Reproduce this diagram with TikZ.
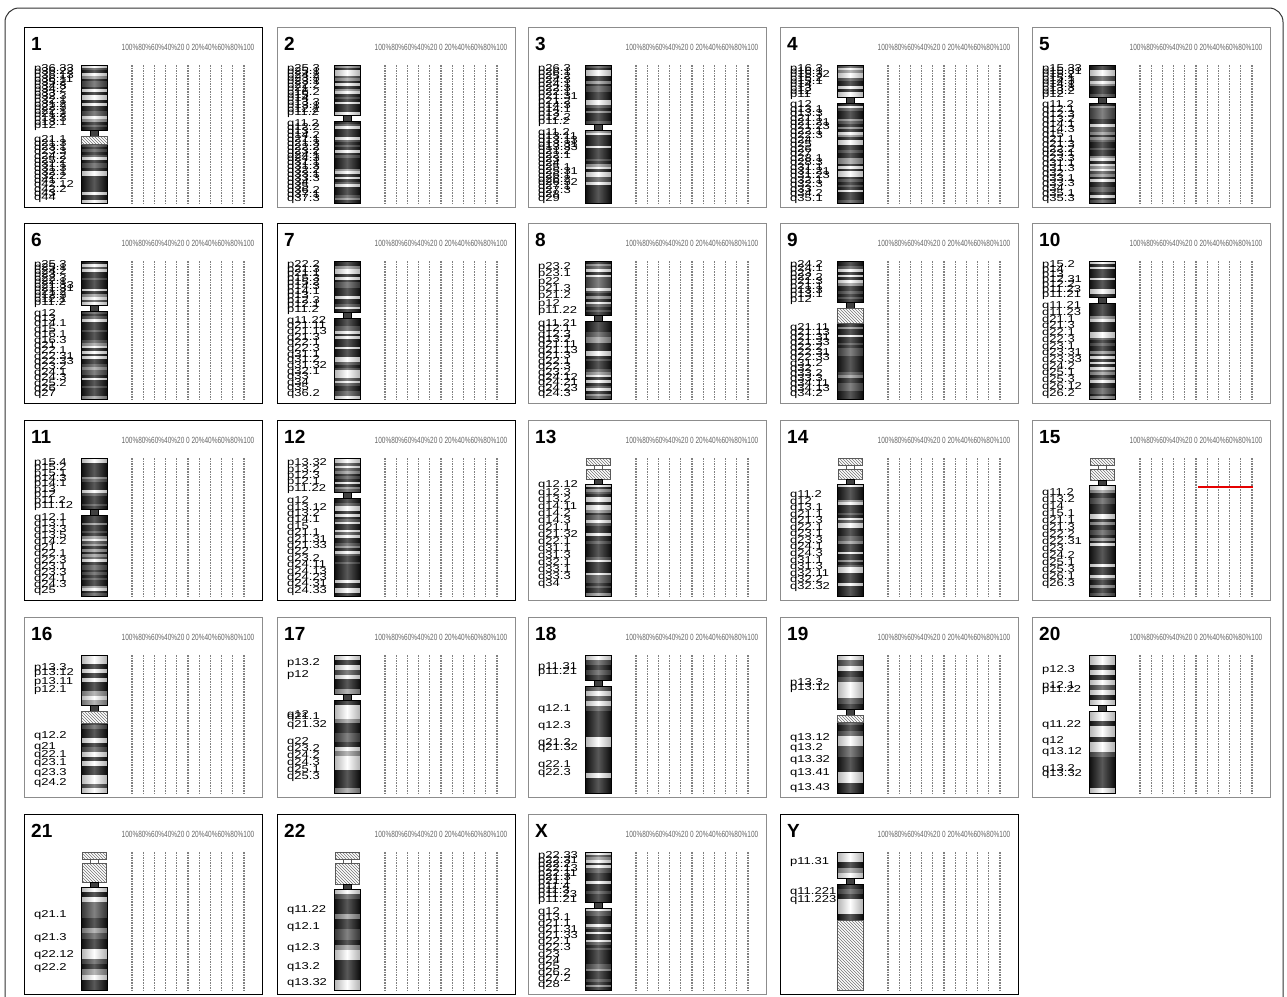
\documentclass[tikz,border=0pt]{standalone}
\usepackage{fontspec}
\usepackage{graphicx}
\setmainfont{Liberation Sans}
\usetikzlibrary{patterns, positioning, calc}

\tikzset{
  frame/.style={draw=black!80, line width=1pt, rounded corners=14pt},
  panel/.style={draw=black!45, line width=0.9pt, minimum width=238pt, minimum height=180pt, anchor=north west, inner sep=0pt},
  darkpanel/.style={panel, draw=black, line width=1.4pt},
  chrtitle/.style={anchor=north west, inner sep=0pt, font=\fontsize{19}{19}\selectfont\bfseries},
  scalelabel/.style={inner sep=0pt, text=black!60, font=\fontsize{9}{9}\selectfont},
  bandlabel/.style={anchor=west, inner sep=0pt, font=\fontsize{10}{10}\selectfont},
  gridline/.style={draw=black!50, line width=1.1pt, dash pattern=on 1.5pt off 1.1pt},
  arm/.style={draw=black, line width=1pt},
  stalk/.style={pattern=north west lines, pattern color=black!55, draw=black!65, line width=0.8pt},
  notch/.style={fill=black!75, draw=black, line width=0.6pt},
  hitline/.style={draw=red!90!black, line width=2.6pt},
}

% one panel: id, x, y, border style, contents
\newcommand{\chrpanel}[5]{%
  \begin{scope}[shift={(#2,#3)}]
    \node[#4] (box#1) at (0,0) {};
    \node[chrtitle] (title#1) at (7,10) {#1};
    \node[scalelabel] (scale#1) at (164,20) {\scalebox{0.72}[1]{100\%80\%60\%40\%20 0 20\%40\%60\%80\%100}};
    \foreach \c in {0,...,10}
      \draw[gridline] ({108+11.2*\c},38) -- ({108+11.2*\c},176);
    #5
  \end{scope}}

% banded arm: top, bottom, slice height, white threshold
\newcommand{\armbands}[4]{%
  \pgfmathsetmacro\armtop{#1}
  \pgfmathsetmacro\armbot{#2}
  \pgfmathtruncatemacro\armn{(\armbot-\armtop)/#3}
  \pgfmathsetmacro\armslice{(\armbot-\armtop)/\armn}
  \foreach \k in {1,...,\armn}{
    \pgfmathtruncatemacro\bandr{random(0,9)}
    \pgfmathtruncatemacro\lev{\bandr<#4 ? 0 : (\bandr<#4+1 ? 40 : (\bandr<#4+3 ? 70 : 93))}
    \fill[black!\lev] (57,{\armtop+(\k-1)*\armslice}) rectangle (83,{\armtop+\k*\armslice});
  }
  \shade[left color=black, right color=black, middle color=white, opacity=0.3] (57,\armtop) rectangle (83,\armbot);
  \draw[arm] (57,\armtop) rectangle (83,\armbot);
}

% chromosome with two arms: seed, centromere, slice, white threshold
\newcommand{\metachr}[4]{%
  \pgfmathsetseed{#1}
  \armbands{38}{#2-3}{#3}{#4}
  \armbands{#2+3}{176}{#3}{#4}
  \draw[notch] (66,#2-3) rectangle (74,#2+3);
}

% acrocentric chromosome: seed, centromere, slice, white threshold
\newcommand{\acrochr}[4]{%
  \pgfmathsetseed{#1}
  \draw[stalk] (58,38) rectangle (82,45);
  \draw[black!65, line width=0.8pt] (66,45) -- (66,49) (74,45) -- (74,49);
  \draw[stalk] (58,49) rectangle (82,#2-3);
  \draw[notch] (66,#2-3) rectangle (74,#2+2);
  \armbands{#2+2}{176}{#3}{#4}
}

\newcommand{\heteroband}[2]{%
  \fill[white] (57,#1) rectangle (83,#2);
  \draw[stalk] (57,#1) rectangle (83,#2);
}

\newcommand{\spreadlabels}[5]{%
  \foreach \lbl [count=\k] in {#5}
    \node[bandlabel] (lab#1-\k) at (10,{#2+(\k-0.5)*(#3-#2)/#4}) {\scalebox{1.3}[1]{\lbl}};
}

\newcommand{\bandlabels}[2]{%
  \foreach \ly/\lbl [count=\k] in {#2}
    \node[bandlabel] (lab#1-\k) at (10,\ly) {\scalebox{1.3}[1]{\lbl}};
}

\begin{document}
\begin{tikzpicture}[x=1pt, y=-1pt]
  \useasboundingbox (0,0) rectangle (1287,996);
  \fill[white] (0,0) rectangle (1287,996);
  \clip (0,0) rectangle (1287,996);
  \draw[frame] (5,1030) -- (5,8) -- (1283,8) -- (1283,1030);

  % row 1
  \chrpanel{1}{24}{27}{darkpanel}{%
    \metachr{11}{106}{2.6}{2}
    \heteroband{109}{117}
    \spreadlabels{1p}{40}{101}{17}{p36.33, p36.22, p36.13, p36.11, p35.2, p34.3, p34.2, p33, p32.3, p32.1, p31.2, p22.3, p22.1, p21.2, p13.3, p13.1, p12}
    \spreadlabels{1q}{111}{173}{15}{q21.1, q21.3, q23.1, q23.3, q24.2, q25.2, q31.1, q31.3, q32.1, q32.2, q41, q42.12, q42.2, q43, q44}}
  \chrpanel{2}{277}{27}{panel}{%
    \metachr{22}{91}{2.6}{2}
    \spreadlabels{2p}{40}{88}{14}{p25.3, p25.1, p24.2, p23.3, p23.1, p22.2, p21, p16.2, p15, p14, p13.3, p13.1, p12.2, p11.2}
    \spreadlabels{2q}{95}{174}{20}{q11.2, q12.2, q13, q14.2, q21.1, q21.3, q22.2, q23.2, q24.1, q24.3, q31.1, q31.3, q32.2, q33.1, q33.3, q34, q35, q36.2, q37.1, q37.3}}
  \chrpanel{3}{528}{27}{panel}{%
    \metachr{33}{100}{2.6}{2}
    \spreadlabels{3p}{40}{97}{14}{p26.3, p26.1, p25.2, p24.3, p24.1, p22.3, p22.1, p21.31, p21.2, p14.3, p14.1, p13, p12.2, p11.2}
    \spreadlabels{3q}{104}{174}{18}{q11.2, q13.11, q13.13, q13.31, q13.33, q21.2, q22.1, q23, q24, q25.1, q25.31, q26.1, q26.2, q26.32, q27.1, q27.3, q28, q29}}
  \chrpanel{4}{780}{27}{panel}{%
    \metachr{44}{73}{2.6}{2}
    \spreadlabels{4p}{40}{70}{9}{p16.3, p16.1, p15.32, p15.2, p15.1, p14, p13, p12, p11}
    \spreadlabels{4q}{76}{174}{22}{q12, q13.1, q13.3, q21.1, q21.21, q21.23, q22.1, q22.3, q24, q25, q26, q27, q28.1, q28.3, q31.1, q31.21, q31.23, q32.1, q32.3, q33, q34.2, q35.1}}
  \chrpanel{5}{1032}{27}{panel}{%
    \metachr{55}{73}{2.6}{2}
    \spreadlabels{5p}{40}{70}{9}{p15.33, p15.31, p15.2, p15.1, p14.3, p14.1, p13.3, p13.2, p12}
    \spreadlabels{5q}{76}{174}{20}{q11.2, q12.1, q12.3, q13.2, q14.1, q14.3, q15, q21.1, q21.3, q22.2, q23.1, q23.3, q31.1, q31.3, q32, q33.1, q33.3, q34, q35.1, q35.3}}

  % row 2
  \chrpanel{6}{24}{223}{darkpanel}{%
    \metachr{66}{85}{2.6}{2}
    \spreadlabels{6p}{40}{82}{12}{p25.3, p25.1, p24.2, p23, p22.3, p22.1, p21.33, p21.31, p21.2, p12.3, p12.1, p11.2}
    \spreadlabels{6q}{88}{174}{16}{q12, q13, q14.1, q15, q16.1, q16.3, q21, q22.1, q22.31, q22.33, q23.2, q24.1, q24.3, q25.2, q26, q27}}
  \chrpanel{7}{277}{223}{darkpanel}{%
    \metachr{77}{92}{2.6}{2}
    \spreadlabels{7p}{40}{89}{11}{p22.2, p21.3, p21.1, p15.3, p15.2, p14.3, p14.1, p13, p12.3, p12.1, p11.2}
    \spreadlabels{7q}{95}{174}{14}{q11.22, q21.11, q21.13, q21.3, q22.1, q22.3, q31.1, q31.2, q31.32, q32.1, q33, q34, q35, q36.2}}
  \chrpanel{8}{528}{223}{panel}{%
    \metachr{88}{95}{2.6}{2}
    \spreadlabels{8p}{40}{92}{7}{p23.2, p23.1, p22, p21.3, p21.2, p12, p11.22}
    \spreadlabels{8q}{98}{174}{14}{q11.21, q12.1, q12.3, q13.2, q21.11, q21.13, q21.3, q22.1, q22.3, q23.2, q24.12, q24.21, q24.23, q24.3}}
  \chrpanel{9}{780}{223}{panel}{%
    \metachr{99}{82}{2.6}{2}
    \heteroband{85}{100}
    \spreadlabels{9p}{40}{79}{9}{p24.2, p24.1, p23, p22.2, p21.3, p21.1, p13.3, p13.1, p12}
    \spreadlabels{9q}{102}{174}{14}{q21.11, q21.13, q21.31, q21.33, q22.2, q22.31, q22.33, q31.2, q32, q33.2, q33.3, q34.11, q34.13, q34.2}}
  \chrpanel{10}{1032}{223}{panel}{%
    \metachr{100}{77}{2.6}{2}
    \spreadlabels{10p}{40}{74}{7}{p15.2, p14, p13, p12.31, p12.2, p11.23, p11.21}
    \spreadlabels{10q}{80}{174}{14}{q11.21, q11.23, q21.1, q21.3, q22.1, q22.3, q23.1, q23.31, q23.33, q24.2, q25.1, q25.3, q26.12, q26.2}}

  % row 3
  \chrpanel{11}{24}{420}{darkpanel}{%
    \metachr{111}{92}{2.6}{2}
    \spreadlabels{11p}{40}{89}{9}{p15.4, p15.2, p15.1, p14.3, p14.1, p13, p12, p11.2, p11.12}
    \spreadlabels{11q}{95}{174}{13}{q12.1, q13.1, q13.3, q13.5, q14.2, q21, q22.1, q22.3, q23.1, q23.3, q24.1, q24.3, q25}}
  \chrpanel{12}{277}{420}{darkpanel}{%
    \metachr{121}{75}{2.6}{2}
    \spreadlabels{12p}{40}{72}{5}{p13.32, p13.2, p12.3, p12.1, p11.22}
    \spreadlabels{12q}{78}{174}{15}{q12, q13.12, q13.2, q14.1, q15, q21.1, q21.31, q21.33, q22, q23.2, q24.11, q24.13, q24.23, q24.31, q24.33}}
  \chrpanel{13}{528}{420}{panel}{%
    \acrochr{131}{62}{2.6}{2}
    \spreadlabels{13q}{62}{168}{15}{q12.12, q12.3, q13.2, q14.11, q14.2, q14.3, q21.1, q21.32, q22.1, q31.1, q31.3, q32.1, q33.1, q33.3, q34}}
  \chrpanel{14}{780}{420}{panel}{%
    \acrochr{141}{62}{2.6}{2}
    \spreadlabels{14q}{72}{170}{15}{q11.2, q12, q13.1, q21.1, q21.3, q22.1, q23.1, q23.3, q24.1, q24.3, q31.1, q31.3, q32.11, q32.2, q32.32}}
  \chrpanel{15}{1032}{420}{panel}{%
    \acrochr{151}{63}{2.6}{2}
    \spreadlabels{15q}{70}{168}{14}{q11.2, q13.2, q14, q15.1, q21.1, q21.3, q22.2, q22.31, q23, q24.2, q25.1, q25.3, q26.1, q26.3}
    \coordinate (hit15a) at (166,67);
    \coordinate (hit15b) at (221,67);
    \draw[hitline] (hit15a) -- (hit15b);}

  % row 4
  \chrpanel{16}{24}{617}{panel}{%
    \metachr{161}{91}{4.5}{3}
    \heteroband{94}{106}
    \bandlabels{16}{51/p13.3, 56/p13.12, 65/p13.11, 73/p12.1, 119/q12.2, 130/q21, 138/q22.1, 146/q23.1, 156/q23.3, 166/q24.2}}
  \chrpanel{17}{277}{617}{panel}{%
    \metachr{171}{80}{4.5}{3}
    \bandlabels{17}{46/p13.2, 58/p12, 98/q12, 100/q21.1, 108/q21.32, 125/q22, 132/q23.2, 139/q24.2, 146/q24.3, 153/q25.1, 160/q25.3}}
  \chrpanel{18}{528}{617}{panel}{%
    \metachr{181}{66}{5}{3}
    \bandlabels{18}{50/p11.31, 55/p11.21, 92/q12.1, 109/q12.3, 126/q21.2, 131/q21.32, 148/q22.1, 156/q22.3}}
  \chrpanel{19}{780}{617}{panel}{%
    \metachr{191}{95}{5}{3}
    \heteroband{98}{105}
    \bandlabels{19}{66/p13.3, 71/p13.12, 121/q13.12, 131/q13.2, 143/q13.32, 156/q13.41, 171/q13.43}}
  \chrpanel{20}{1032}{617}{panel}{%
    \metachr{201}{91}{5}{3}
    \bandlabels{20}{53/p12.3, 69/p12.1, 73/p11.22, 108/q11.22, 124/q12, 135/q13.12, 152/q13.2, 157/q13.32}}

  % row 5
  \chrpanel{21}{24}{814}{darkpanel}{%
    \acrochr{211}{71}{5}{3}
    \bandlabels{21}{101/q21.1, 124/q21.3, 141/q22.12, 154/q22.2}}
  \chrpanel{22}{277}{814}{darkpanel}{%
    \acrochr{221}{73}{5}{3}
    \bandlabels{22}{96/q11.22, 113/q12.1, 134/q12.3, 153/q13.2, 169/q13.32}}
  \chrpanel{X}{528}{814}{panel}{%
    \metachr{231}{91}{2.6}{2}
    \spreadlabels{Xp}{40}{88}{11}{p22.33, p22.31, p22.2, p22.13, p22.11, p21.3, p21.1, p11.4, p11.3, p11.23, p11.21}
    \spreadlabels{Xq}{95}{174}{13}{q12, q13.1, q21.1, q21.31, q21.33, q22.1, q22.3, q23, q24, q25, q26.2, q27.2, q28}}
  \chrpanel{Y}{780}{814}{darkpanel}{%
    \metachr{241}{67}{5}{3}
    \heteroband{106}{176}
    \bandlabels{Y}{48/p11.31, 78/q11.221, 86/q11.223}}
\end{tikzpicture}
\end{document}
